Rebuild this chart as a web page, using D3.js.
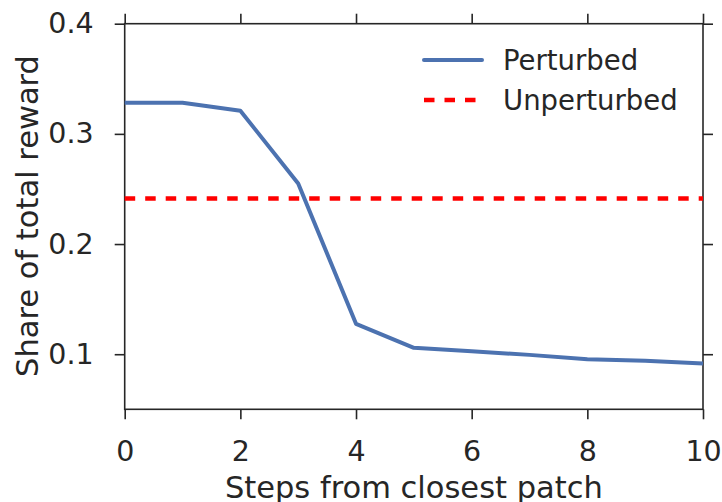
<!DOCTYPE html>
<html>
<head>
<meta charset="utf-8">
<script src="https://cdn.jsdelivr.net/npm/d3@7"></script>
<style>
body { margin: 0; background: #fff; }
svg { display: block; }
text { font-family: "DejaVu Sans", sans-serif; fill: #262626; }
</style>
</head>
<body>
<svg id="chart" width="722" height="502"></svg>
<script>
const steps = [0, 1, 2, 3, 4, 5, 6, 7, 8, 9, 10];
const perturbed = [0.3282, 0.3282, 0.321, 0.255, 0.1276, 0.1058, 0.1027, 0.0994, 0.0955, 0.094, 0.0915];
const unperturbed = 0.2413;
const xTicks = [0, 2, 4, 6, 8, 10];
const yTicks = [0.1, 0.2, 0.3, 0.4];
const seriesNames = ["Perturbed", "Unperturbed"];

const svg = d3.select("#chart");
const m = { left: 124.7, right: 722 - 703, top: 23.7, bottom: 502 - 409.3 };
const W = 722, H = 502;
const x = d3.scaleLinear().domain([0, 10]).range([m.left, W - m.right]);
const y = d3.scaleLinear().domain([0.05, 0.4]).range([H - m.bottom, m.top]);

const axisColor = "#262626";
function styleAxis(g, noLabels) {
  g.select(".domain").remove();
  g.selectAll(".tick line").attr("stroke", axisColor).attr("stroke-width", 1.6);
  g.selectAll(".tick text").style("font-size", "28.5px").attr("fill", "#262626");
  if (noLabels) g.selectAll(".tick text").remove();
}

svg.append("g").attr("transform", `translate(0,${y.range()[0]})`)
  .call(d3.axisBottom(x).tickValues(xTicks).tickSize(10).tickPadding(21).tickFormat(d3.format("d")))
  .call(g => styleAxis(g));
svg.append("g").attr("transform", `translate(0,${y.range()[1]})`)
  .call(d3.axisTop(x).tickValues(xTicks).tickSize(10))
  .call(g => styleAxis(g, true));
svg.append("g").attr("transform", `translate(${x.range()[0]},0)`)
  .call(d3.axisLeft(y).tickValues(yTicks).tickSize(10).tickPadding(21).tickFormat(d3.format(".1f")))
  .call(g => styleAxis(g));
svg.append("g").attr("transform", `translate(${x.range()[1]},0)`)
  .call(d3.axisRight(y).tickValues(yTicks).tickSize(10))
  .call(g => styleAxis(g, true));

svg.append("rect")
  .attr("x", x.range()[0]).attr("y", y.range()[1])
  .attr("width", x.range()[1] - x.range()[0]).attr("height", y.range()[0] - y.range()[1])
  .attr("fill", "none").attr("stroke", axisColor).attr("stroke-width", 1.6);

const line = d3.line().x((d, i) => x(steps[i])).y(d => y(d));
svg.append("path").datum(perturbed)
  .attr("d", line).attr("fill", "none")
  .attr("stroke", "#4C72B0").attr("stroke-width", 4).attr("stroke-linejoin", "round");

svg.append("line")
  .attr("x1", x(0)).attr("x2", x(10)).attr("y1", y(unperturbed)).attr("y2", y(unperturbed))
  .attr("stroke", "#ff0000").attr("stroke-width", 4.5).attr("stroke-dasharray", "10.5,10");

// legend
const lg = svg.append("g");
lg.append("line").attr("x1", 424).attr("x2", 482).attr("y1", 60).attr("y2", 60)
  .attr("stroke", "#4C72B0").attr("stroke-width", 4).attr("stroke-linecap", "round");
lg.append("line").attr("x1", 424).attr("x2", 482).attr("y1", 100).attr("y2", 100)
  .attr("stroke", "#ff0000").attr("stroke-width", 4.5).attr("stroke-dasharray", "10.5,10");
lg.append("text").attr("x", 503).attr("y", 60).attr("dy", "0.35em").style("font-size", "27.5px").text(seriesNames[0]);
lg.append("text").attr("x", 503).attr("y", 100).attr("dy", "0.35em").style("font-size", "27.5px").text(seriesNames[1]);

svg.append("text").attr("x", (x.range()[0] + x.range()[1]) / 2).attr("y", 498)
  .attr("text-anchor", "middle").style("font-size", "30.5px").text("Steps from closest patch");
svg.append("text").attr("transform", `translate(38,${(y.range()[0] + y.range()[1]) / 2 - 0.5}) rotate(-90)`)
  .attr("text-anchor", "middle").style("font-size", "30.5px").text("Share of total reward");
</script>
</body>
</html>
